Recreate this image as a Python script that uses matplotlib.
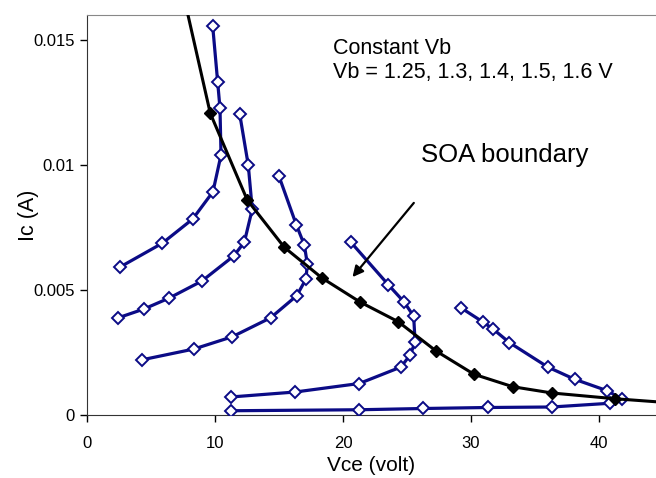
import numpy as np
import matplotlib
matplotlib.use('Agg')
import matplotlib.pyplot as plt
from matplotlib.ticker import FuncFormatter

plt.rcParams['font.family'] = ['Liberation Sans', 'DejaVu Sans']

# Curvas a Vb constante (Vce en volt, Ic en A)
vce_1 = [2.55, 5.88, 8.26, 9.84, 10.47, 10.39, 10.21, 9.82]
ic_1 = [0.00591, 0.00687, 0.00784, 0.00893, 0.0104, 0.01227, 0.01331, 0.01556]

vce_2 = [2.45, 4.45, 6.43, 8.98, 11.46, 12.29, 12.91, 12.6, 11.93]
ic_2 = [0.00389, 0.00424, 0.00468, 0.00536, 0.00636, 0.00691, 0.00823, 0.00999, 0.01204]

vce_3 = [4.32, 8.36, 11.35, 14.35, 16.38, 17.11, 17.21, 16.98, 16.35, 15.0]
ic_3 = [0.00221, 0.00264, 0.00313, 0.00389, 0.00477, 0.00544, 0.00605, 0.0068, 0.00761, 0.00955]

vce_4 = [11.23, 16.27, 21.27, 24.53, 25.27, 25.63, 25.52, 24.79, 23.54, 20.6]
ic_4 = [0.00072, 0.00092, 0.00126, 0.00192, 0.00242, 0.00292, 0.00395, 0.00451, 0.00521, 0.00692]

vce_5 = [11.23, 21.27, 26.27, 31.29, 36.3, 40.86, 41.77, 40.64, 38.09, 35.99, 32.99, 31.72, 30.96, 29.18]
ic_5 = [0.00017, 0.00021, 0.00026, 0.0003, 0.00032, 0.00047, 0.00065, 0.00097, 0.00143, 0.00192,
        0.0029, 0.00344, 0.00371, 0.0043]

# Frontera SOA (puntos medidos)
vce_soa = [9.63, 12.52, 15.41, 18.36, 21.33, 24.32, 27.27, 30.23, 33.27, 36.33, 41.25]
ic_soa = [0.01207, 0.0086, 0.00671, 0.00548, 0.00452, 0.00373, 0.00256, 0.00163, 0.00113, 0.00088, 0.00065]
# extremos de la linea de tendencia
vce_soa_line = [7.89] + vce_soa + [44.45]
ic_soa_line = [0.016] + ic_soa + [0.00053]

azul = '#0b0b86'

fig = plt.figure(figsize=(6.56, 4.78), dpi=100)
ax = fig.add_axes([0.1326, 0.1318, 0.8674, 0.8368])

for x, y in [(vce_1, ic_1), (vce_2, ic_2), (vce_3, ic_3), (vce_4, ic_4), (vce_5, ic_5)]:
    ax.plot(x, y, color=azul, linewidth=2.3, marker='D', markersize=6,
            markerfacecolor='white', markeredgecolor=azul, markeredgewidth=1.4, zorder=3)

ax.plot(vce_soa_line, ic_soa_line, color='black', linewidth=2.2, zorder=4, clip_on=True)
ax.plot(vce_soa, ic_soa, linestyle='none', marker='D', markersize=6,
        color='black', zorder=5)

ax.set_xlim(0, 44.45)
ax.set_ylim(0, 0.016)
ax.set_xticks([0, 10, 20, 30, 40])
ax.set_yticks([0, 0.005, 0.01, 0.015])
ax.yaxis.set_major_formatter(FuncFormatter(lambda v, p: '%g' % v))
ax.tick_params(direction='out', length=5, width=1, labelsize=12, pad=4)
ax.tick_params(axis='x', pad=10)

ax.spines['right'].set_visible(False)
ax.spines['top'].set_color('#888888')
ax.spines['left'].set_color('#333333')
ax.spines['bottom'].set_color('#333333')

ax.set_xlabel('Vce (volt)', fontsize=15, labelpad=4)
ax.set_ylabel('Ic (A)', fontsize=15.5, labelpad=-4)

ax.text(19.2, 0.01468, 'Constant Vb', fontsize=15.5, va='center', ha='left')
ax.text(19.2, 0.01372, 'Vb = 1.25, 1.3, 1.4, 1.5, 1.6 V', fontsize=15.5, va='center', ha='left')
ax.text(26.1, 0.0104, 'SOA boundary', fontsize=18.5, va='center', ha='left')
ax.annotate('', xy=(20.6, 0.00543), xytext=(25.67, 0.00857),
            arrowprops=dict(arrowstyle='-|>', color='black', lw=1.6, mutation_scale=16))

fig.savefig('out.png', dpi=100)
